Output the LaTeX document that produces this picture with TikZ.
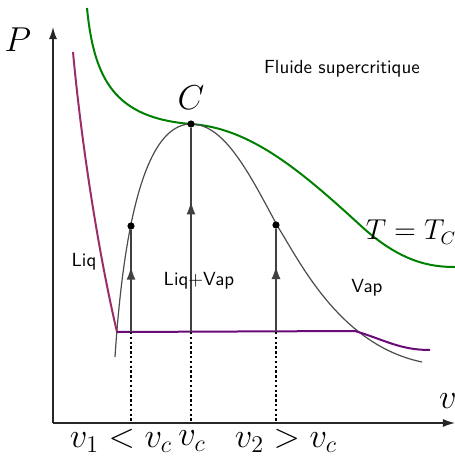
\documentclass[tikz,border=0pt]{standalone}
\usetikzlibrary{arrows.meta,decorations.markings}

\definecolor{vertiso}{RGB}{0,128,0}
\definecolor{rosliq}{RGB}{155,45,105}
\definecolor{violetpal}{RGB}{105,10,120}

\tikzset{
    axe/.style={draw=black!85, line width=0.7pt, -{Latex[length=6pt,width=4pt]}},
    isotherme/.style={draw=vertiso, line width=1pt},
    courbesat/.style={draw=black!70, line width=0.6pt},
    palier/.style={draw=violetpal, line width=1pt},
    branche/.style={draw=rosliq, line width=1pt},
    isochore/.style={draw=black!75, line width=0.75pt, postaction={decorate},
        decoration={markings, mark=at position 0.64 with {\arrow{Latex[length=6.5pt,width=4.5pt]}}}},
    pointille/.style={draw=black, line width=0.7pt, dash pattern=on 1.2pt off 1.2pt},
    pointnoir/.style={circle, fill=black, inner sep=0pt, minimum size=3.6pt},
    etiq/.style={font=\fontsize{9.5}{11}\selectfont\sffamily},
    grandmath/.style={font=\fontsize{16.5}{20}\selectfont}
}

\begin{document}
\begin{tikzpicture}[x=0.5pt, y=-0.5pt]
    \useasboundingbox (0,0) rectangle (455,457);

    % axes
    \coordinate (O) at (53,423);
    \coordinate (Pmax) at (53,27);
    \coordinate (vmax) at (455,423);
    \draw[axe] (O) -- (Pmax);
    \draw[axe] (O) -- (vmax);
    \node[grandmath] (labP) at (18,40) {$P$};
    \node[grandmath] (labv) at (448,401) {$v$};

    % isotherme critique
    \draw[isotherme] (87,8) .. controls (94,80) and (115,118) .. (191,124)
        .. controls (250,128) and (300,170) .. (360,225)
        .. controls (400,262) and (430,267) .. (455,267);

    % courbe de saturation
    \draw[courbesat] (115,357) .. controls (122,250) and (140,124) .. (191,124)
        .. controls (225,124) and (250,175) .. (278,227)
        .. controls (300,262) and (340,345) .. (422,362);

    % isotherme T < T_C
    \coordinate (A) at (117,332);
    \coordinate (B) at (355,331);
    \draw[branche] (73,52) .. controls (82,150) and (100,260) .. (A);
    \draw[palier] (A) -- (B) .. controls (385,340) and (400,350) .. (430,350);

    % points
    \node[pointnoir] (C) at (191,124) {};
    \node[pointnoir] (haut1) at (131,226) {};
    \node[pointnoir] (haut2) at (276,225) {};
    \node[grandmath] (labC) at (191,98) {$C$};

    % isochores
    \coordinate (bas1) at (131,332);
    \coordinate (basc) at (191,332);
    \coordinate (bas2) at (276,332);
    \coordinate (ax1) at (131,423);
    \coordinate (axc) at (191,423);
    \coordinate (ax2) at (276,423);
    \draw[isochore] (bas1) -- (haut1);
    \draw[isochore] (basc) -- (C);
    \draw[isochore] (bas2) -- (haut2);
    \draw[pointille] (bas1) -- (ax1);
    \draw[pointille] (basc) -- (axc);
    \draw[pointille] (bas2) -- (ax2);

    % etiquettes
    \node[grandmath] (labv1) at (121,441) {$v_1 < v_c$};
    \node[grandmath] (labvc) at (192,441) {$v_c$};
    \node[grandmath] (labv2) at (286,441) {$v_2 > v_c$};
    \node[font=\fontsize{13.5}{16}\selectfont] (labT) at (411,232) {$T = T_C$};
    \node[etiq] (liq) at (84,262) {Liq};
    \node[etiq] (liqvap) at (199,281) {Liq+Vap};
    \node[etiq] (vap) at (367,288) {Vap};
    \node[etiq] (fluide) at (342,69) {Fluide supercritique};
\end{tikzpicture}
\end{document}
